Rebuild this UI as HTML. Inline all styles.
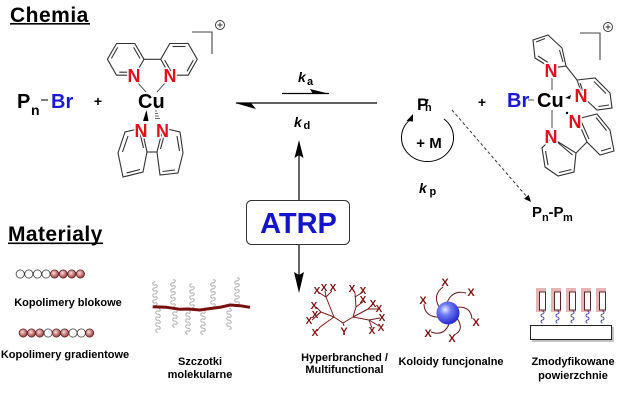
<!DOCTYPE html>
<html><head><meta charset="utf-8"><style>
html,body{margin:0;padding:0;background:#fff;}
svg{display:block;}
text{font-family:"Liberation Sans",Arial,sans-serif;font-weight:bold;}
</style></head><body>
<svg width="626" height="406" viewBox="0 0 626 406" xmlns="http://www.w3.org/2000/svg">
<defs>
<radialGradient id="rb" cx="40%" cy="38%" r="65%"><stop offset="0" stop-color="#f6dede"/><stop offset="0.55" stop-color="#c77a7a"/><stop offset="1" stop-color="#8a3a3a"/></radialGradient>
<radialGradient id="sph" cx="38%" cy="35%" r="70%"><stop offset="0" stop-color="#e8ecff"/><stop offset="0.35" stop-color="#6f7cf5"/><stop offset="1" stop-color="#1d22c8"/></radialGradient>
</defs>
<rect width="626" height="406" fill="#fff"/>

<!-- Headings -->
<text x="10" y="22" font-size="21" letter-spacing="0.5" fill="#000">Chemia</text>
<rect x="10" y="23" width="80" height="1.6" fill="#000"/>
<text x="8" y="241" font-size="21" letter-spacing="0.4" fill="#000">Materialy</text>
<rect x="8" y="242.5" width="95" height="1.6" fill="#000"/>

<!-- Pn-Br -->
<text x="17" y="108" font-size="20" fill="#000">P</text>
<text x="31" y="115" font-size="14" fill="#000">n</text>
<line x1="41" y1="100" x2="48" y2="100" stroke="#000" stroke-width="1"/>
<text x="51" y="108" font-size="20" fill="#1a1ad0">Br</text>
<text x="98" y="106" font-size="14" text-anchor="middle" fill="#000">+</text>

<!-- Left Cu complex -->
<g fill="none" stroke="#333" stroke-width="1.1">
<polygon points="107.4,59.3 116.5,43.5 134.8,43.5 144,59.3 134.8,75.2 116.5,75.2"/>
<line x1="111.4" y1="58.4" x2="117.7" y2="47.4"/><line x1="133.6" y1="47.4" x2="140" y2="58.4"/><line x1="132.1" y1="72.2" x2="119.2" y2="72.2"/>
<line x1="144" y1="59.3" x2="160.7" y2="59.3"/>
<polygon points="160.7,59.3 169.8,43.5 188.2,43.5 197.3,59.3 188.2,75.2 169.8,75.2"/>
<line x1="172.5" y1="46.5" x2="185.5" y2="46.5"/><line x1="193.3" y1="60.2" x2="187" y2="71.3"/><line x1="171" y1="71.3" x2="164.7" y2="60.2"/>
<polygon points="141.7,128 125,132 118,153 123,177 143,172 147,152"/>
<line x1="128" y1="136" x2="122.5" y2="152"/><line x1="126.5" y1="173" x2="140" y2="169.5"/><line x1="143.5" y1="148" x2="139.5" y2="131"/>
<line x1="147" y1="152" x2="157" y2="152"/>
<polygon points="163,128 180,132 183,153 178,173 160,175 157,152"/>
<line x1="177" y1="136" x2="179.5" y2="151"/><line x1="175" y1="170" x2="162.5" y2="171.5"/><line x1="160.5" y1="149" x2="165" y2="132"/>
<line x1="137" y1="82" x2="146" y2="92" stroke-width="0.9"/>
<line x1="166" y1="82" x2="157" y2="92" stroke-width="0.9"/>
<polyline points="192,32 212,32 212,54" stroke="#444"/>
<circle cx="220" cy="25" r="4.5" stroke="#333" stroke-width="0.9"/>
<path d="M217.5,25h5M220,22.5v5" stroke="#333" stroke-width="0.9"/>
</g>
<polygon points="146.5,110 143,121 148.5,121" fill="#000"/>
<g stroke="#444" stroke-width="0.8"><line x1="155" y1="111" x2="157" y2="111"/><line x1="155" y1="113.5" x2="158" y2="113.5"/><line x1="155" y1="116" x2="159" y2="116"/><line x1="155" y1="118.5" x2="160" y2="118.5"/></g>
<g font-size="18" fill="#e0101e" stroke="#fff" stroke-width="3" paint-order="stroke">
<text x="134" y="82" text-anchor="middle">N</text>
<text x="170" y="82" text-anchor="middle">N</text>
<text x="141" y="137" text-anchor="middle">N</text>
<text x="162.5" y="137" text-anchor="middle">N</text>
</g>
<text x="138" y="108" font-size="20" fill="#000">Cu</text>

<!-- Equilibrium arrows -->
<line x1="236" y1="103" x2="377" y2="103" stroke="#000" stroke-width="1.2"/>
<polygon points="235,103 256,109 251,103" fill="#000"/>
<line x1="282" y1="93.5" x2="329" y2="93.5" stroke="#000" stroke-width="1.2"/>
<polygon points="330,94 310,89 313,94" fill="#000"/>
<text x="298" y="82" font-size="14" font-style="italic" fill="#000">k</text>
<text x="307" y="85" font-size="11" fill="#000">a</text>
<text x="294" y="127" font-size="14" font-style="italic" fill="#000">k</text>
<text x="303.5" y="129" font-size="11" fill="#000">d</text>

<!-- ATRP box and arrows -->
<line x1="299" y1="155" x2="299" y2="200" stroke="#000" stroke-width="1.2"/>
<polygon points="299,140 294.5,158 299,155 303.5,158" fill="#000"/>
<line x1="299" y1="245" x2="299" y2="275" stroke="#000" stroke-width="1.2"/>
<polygon points="299,293 294,272 299,275 304,272" fill="#000"/>
<rect x="246.5" y="200.5" width="103" height="44" rx="5" ry="5" fill="#fff" stroke="#333" stroke-width="1"/>
<text x="298.5" y="233" font-size="29" text-anchor="middle" fill="#1414c8">ATRP</text>

<!-- Radical and propagation -->
<text x="417" y="110" font-size="17" fill="#000">P</text>
<text x="425" y="111" font-size="11" fill="#000">n</text>
<circle cx="427.5" cy="100" r="1" fill="#000"/>
<path d="M444,119 A26,24 0 1,1 411,119" fill="none" stroke="#000" stroke-width="1"/>
<polygon points="413,114 406.5,121 413,121.5" fill="#000"/>
<text x="429" y="148" font-size="15" text-anchor="middle" fill="#000">+ M</text>
<text x="419" y="193" font-size="14" font-style="italic" fill="#000">k</text>
<text x="429.5" y="195" font-size="11" fill="#000">p</text>

<!-- dashed arrow -->
<line x1="452" y1="110" x2="527" y2="197" stroke="#333" stroke-width="1" stroke-dasharray="3,2.5"/>
<polygon points="531,202 524.1,198.7 528.7,194.7" fill="#000"/>
<text x="532" y="217" font-size="15" fill="#000">P</text>
<text x="542" y="221" font-size="11" fill="#000">n</text>
<text x="548.5" y="217" font-size="15" fill="#000">-P</text>
<text x="563" y="221" font-size="11" fill="#000">m</text>

<text x="482" y="107" font-size="14" text-anchor="middle" fill="#000">+</text>

<!-- Right Cu complex -->
<g fill="none" stroke="#333" stroke-width="1.1">
<polygon points="551,68 566,66 562,48 548,35 533,40 535,58"/>
<line x1="563" y1="62" x2="559.5" y2="50"/><line x1="545" y1="38.5" x2="536" y2="42"/><line x1="538" y1="56" x2="548" y2="62.5"/>
<line x1="566" y1="66" x2="577" y2="80"/>
<polygon points="577,80 595,78 610,93 612,108 597,110 583,97"/>
<line x1="594" y1="81.5" x2="606" y2="93.5"/><line x1="609" y1="105" x2="598.5" y2="106.5"/><line x1="584" y1="94" x2="580" y2="83"/>
<polygon points="577,119 597,114 610,130 614,151 600,155 587,142"/>
<line x1="596" y1="117.5" x2="606.5" y2="130.5"/><line x1="611" y1="148" x2="601" y2="151"/><line x1="589" y1="139" x2="581" y2="121"/>
<line x1="576" y1="153" x2="587" y2="142"/>
<polygon points="552,138 542,148 545,167 558,176 574,172 576,153"/>
<line x1="545.5" y1="151" x2="548" y2="165"/><line x1="559" y1="172.5" x2="571.5" y2="169.5"/><line x1="572.5" y1="155" x2="556" y2="141"/>
<line x1="552" y1="78" x2="552" y2="90" stroke-width="0.9"/>
<line x1="552" y1="110" x2="552" y2="128" stroke-width="0.9"/>
<line x1="528" y1="100" x2="534" y2="100" stroke="#555" stroke-width="1"/>
<polyline points="580,33 600,33 600,60" stroke="#444"/>
<circle cx="608" cy="27" r="4.5" stroke="#333" stroke-width="0.9"/>
<path d="M605.5,27h5M608,24.5v5" stroke="#333" stroke-width="0.9"/>
</g>
<polygon points="565,98 571,95 570,99" fill="#000"/>
<circle cx="567" cy="113" r="1.2" fill="#000"/>
<g font-size="18" fill="#e0101e" stroke="#fff" stroke-width="3" paint-order="stroke">
<text x="551" y="77" text-anchor="middle">N</text>
<text x="581" y="102" text-anchor="middle">N</text>
<text x="575" y="128" text-anchor="middle">N</text>
<text x="551" y="143" text-anchor="middle">N</text>
</g>
<text x="507" y="107" font-size="20" fill="#1a1ad0">Br</text>
<text x="537" y="107" font-size="20" fill="#000">Cu</text>

<!-- Block copolymer beads -->
<g stroke-width="0.8">
<circle cx="20.2" cy="274" r="4.1" fill="#fff" stroke="#333"/>
<circle cx="28.8" cy="274" r="4.1" fill="#fff" stroke="#333"/>
<circle cx="37.4" cy="274" r="4.1" fill="#fff" stroke="#333"/>
<circle cx="46" cy="274" r="4.1" fill="#fff" stroke="#333"/>
<circle cx="54.6" cy="274" r="4.1" fill="url(#rb)" stroke="#5a2020"/>
<circle cx="63.2" cy="274" r="4.1" fill="url(#rb)" stroke="#5a2020"/>
<circle cx="71.8" cy="274" r="4.1" fill="url(#rb)" stroke="#5a2020"/>
<circle cx="80.4" cy="274" r="4.1" fill="url(#rb)" stroke="#5a2020"/>

<circle cx="23.2" cy="333" r="4.1" fill="url(#rb)" stroke="#5a2020"/>
<circle cx="31.5" cy="333" r="4.1" fill="url(#rb)" stroke="#5a2020"/>
<circle cx="39.8" cy="333" r="4.1" fill="url(#rb)" stroke="#5a2020"/>
<circle cx="48.1" cy="333" r="4.1" fill="#fff" stroke="#333"/>
<circle cx="56.4" cy="333" r="4.1" fill="url(#rb)" stroke="#5a2020"/>
<circle cx="64.7" cy="333" r="4.1" fill="url(#rb)" stroke="#5a2020"/>
<circle cx="73" cy="333" r="4.1" fill="#fff" stroke="#333"/>
<circle cx="81.3" cy="333" r="4.1" fill="#fff" stroke="#333"/>
<circle cx="89.6" cy="333" r="4.1" fill="url(#rb)" stroke="#5a2020"/>
</g>
<g font-size="11" fill="#000" text-anchor="middle">
<text x="68" y="306">Kopolimery blokowe</text>
<text x="65" y="358">Kopolimery gradientowe</text>
<text x="200" y="365">Szczotki</text>
<text x="200" y="378">molekularne</text>
<text x="344.5" y="361">Hyperbranched /</text>
<text x="344.5" y="373">Multifunctional</text>
<text x="451" y="365">Koloidy funcjonalne</text>
<text x="573" y="365">Zmodyfikowane</text>
<text x="573" y="379">powierzchnie</text>
</g>

<!-- Molecular brushes -->
<g fill="none" stroke="#9c9c9c" stroke-width="0.8">
<path d="M155,306 c3,-1 3,-4 0,-3 c-3,1 -3,-4 0,-3 c3,-1 3,-4 0,-3 c-3,1 -3,-4 0,-3 c3,-1 3,-4 0,-3 c-3,1 -3,-4 0,-3 c3,-1 3,-4 0,-3 c-3,1 -3,-4 0,-3"/>
<path d="M173,307 c3,-1 3,-4 0,-3 c-3,1 -3,-4 0,-3 c3,-1 3,-4 0,-3 c-3,1 -3,-4 0,-3 c3,-1 3,-4 0,-3 c-3,1 -3,-4 0,-3 c3,-1 3,-4 0,-3 c-3,1 -3,-4 0,-3 c3,-1 3,-4 0,-3"/>
<path d="M192,308 c3,-1 3,-4 0,-3 c-3,1 -3,-4 0,-3 c3,-1 3,-4 0,-3 c-3,1 -3,-4 0,-3 c3,-1 3,-4 0,-3 c-3,1 -3,-4 0,-3 c3,-1 3,-4 0,-3 c-3,1 -3,-4 0,-3"/>
<path d="M213,307 c3,-1 3,-4 0,-3 c-3,1 -3,-4 0,-3 c3,-1 3,-4 0,-3 c-3,1 -3,-4 0,-3 c3,-1 3,-4 0,-3 c-3,1 -3,-4 0,-3 c3,-1 3,-4 0,-3 c-3,1 -3,-4 0,-3 c3,-1 3,-4 0,-3"/>
<path d="M237,305 c3,-1 3,-4 0,-3 c-3,1 -3,-4 0,-3 c3,-1 3,-4 0,-3 c-3,1 -3,-4 0,-3 c3,-1 3,-4 0,-3 c-3,1 -3,-4 0,-3 c3,-1 3,-4 0,-3 c-3,1 -3,-4 0,-3 c3,-1 3,-4 0,-3"/>
<path d="M158,308 c3,1 3,4 0,3 c-3,-1 -3,4 0,3 c3,1 3,4 0,3 c-3,-1 -3,4 0,3 c3,1 3,4 0,3 c-3,-1 -3,4 0,3 c3,1 3,4 0,3 c-3,-1 -3,4 0,3"/>
<path d="M175,309 c3,1 3,4 0,3 c-3,-1 -3,4 0,3 c3,1 3,4 0,3 c-3,-1 -3,4 0,3 c3,1 3,4 0,3 c-3,-1 -3,4 0,3"/>
<path d="M188,310 c3,1 3,4 0,3 c-3,-1 -3,4 0,3 c3,1 3,4 0,3 c-3,-1 -3,4 0,3 c3,1 3,4 0,3 c-3,-1 -3,4 0,3 c3,1 3,4 0,3 c-3,-1 -3,4 0,3"/>
<path d="M203,310 c3,1 3,4 0,3 c-3,-1 -3,4 0,3 c3,1 3,4 0,3 c-3,-1 -3,4 0,3 c3,1 3,4 0,3 c-3,-1 -3,4 0,3 c3,1 3,4 0,3 c-3,-1 -3,4 0,3"/>
<path d="M229,308 c3,1 3,4 0,3 c-3,-1 -3,4 0,3 c3,1 3,4 0,3 c-3,-1 -3,4 0,3 c3,1 3,4 0,3 c-3,-1 -3,4 0,3 c3,1 3,4 0,3"/>
</g>
<polyline points="152.7,306.7 166.7,307.3 180,309.3 188.3,309 200,310 206.7,309 220,307.3 230,305 240,305.7 250,307.3" fill="none" stroke="#7a0f0f" stroke-width="3" stroke-linejoin="round"/>

<!-- Hyperbranched -->
<g fill="none" stroke="#7a1a1a" stroke-width="1">
<polyline points="334,317 343,323 353,317"/>
<line x1="343" y1="323" x2="344" y2="326"/>
<line x1="334" y1="317" x2="326" y2="297"/>
<line x1="326" y1="297" x2="318" y2="292"/><line x1="326" y1="297" x2="325" y2="291"/><line x1="326" y1="297" x2="332" y2="291"/>
<line x1="334" y1="317" x2="321" y2="312"/>
<line x1="321" y1="312" x2="316" y2="307"/><line x1="321" y1="312" x2="317" y2="315"/><line x1="321" y1="312" x2="312" y2="320"/>
<line x1="334" y1="317" x2="320" y2="327"/><line x1="320" y1="327" x2="317" y2="331"/>
<line x1="353" y1="317" x2="356" y2="307"/>
<line x1="356" y1="307" x2="355" y2="293"/><line x1="355" y1="293" x2="353" y2="290"/><line x1="355" y1="297" x2="363" y2="292"/>
<line x1="356" y1="307" x2="364" y2="301"/>
<line x1="353" y1="317" x2="368" y2="309"/><line x1="368" y1="309" x2="373" y2="304"/><line x1="368" y1="309" x2="378" y2="309"/>
<line x1="353" y1="317" x2="369" y2="320"/><line x1="369" y1="320" x2="380" y2="318"/><line x1="369" y1="320" x2="379" y2="326"/><line x1="369" y1="320" x2="372" y2="328"/>
</g>
<g font-size="10" fill="#7a1414" text-anchor="middle">
<text x="317" y="294">X</text><text x="324" y="291">X</text><text x="333" y="291">X</text>
<text x="352" y="292">X</text><text x="363" y="294">X</text><text x="363" y="303">X</text>
<text x="373" y="307">X</text><text x="379" y="312">X</text><text x="382" y="321">X</text>
<text x="381" y="331">X</text><text x="372" y="334">X</text>
<text x="314" y="309">X</text><text x="315" y="318">X</text><text x="309" y="324">X</text><text x="315" y="336">X</text>
<text x="344" y="335" font-size="11">Y</text>
</g>

<!-- Koloidy -->
<g fill="none" stroke="#6b1a1a" stroke-width="1">
<path d="M438.9,306.8 Q432.4,294.8 443,287"/>
<path d="M447.3,302 Q452.7,289.5 466,293"/>
<path d="M457.3,307.2 Q470.9,306 472,319"/>
<path d="M457.4,318.7 Q464.7,330.3 454,335"/>
<path d="M449,324 Q443.8,336.6 431,332"/>
<path d="M437.8,317.2 Q424.2,316.1 424,304"/>
</g>
<circle cx="448" cy="313" r="11.5" fill="url(#sph)"/>
<g font-size="11" fill="#7a1414" text-anchor="middle">
<text x="445" y="286">X</text><text x="471" y="296">X</text><text x="423" y="304">X</text>
<text x="476" y="326">X</text><text x="428" y="337">X</text><text x="452" y="342">X</text>
</g>

<!-- Modified surfaces -->
<g>
<rect x="536" y="288" width="10" height="24" fill="#e6b4b4"/>
<rect x="551" y="288" width="10" height="24" fill="#e6b4b4"/>
<rect x="566" y="288" width="10" height="24" fill="#e6b4b4"/>
<rect x="581" y="288" width="10" height="24" fill="#e6b4b4"/>
<rect x="596" y="288" width="10" height="24" fill="#e6b4b4"/>
<g fill="#fff" stroke="#4a1414" stroke-width="0.9">
<rect x="539.5" y="292" width="6" height="18"/>
<rect x="554.5" y="292" width="6" height="18"/>
<rect x="569.5" y="292" width="6" height="18"/>
<rect x="584.5" y="292" width="6" height="18"/>
<rect x="599.5" y="292" width="6" height="18"/>
</g>
<g fill="none" stroke="#3030a8" stroke-width="0.8">
<path d="M542.5,311 c2,0 2,3 0,3 c-2,0 -2,3 0,3 c2,0 2,3 0,3 c-2,0 -2,3 0,3"/>
<path d="M557.5,311 c2,0 2,3 0,3 c-2,0 -2,3 0,3 c2,0 2,3 0,3 c-2,0 -2,3 0,3"/>
<path d="M572.5,311 c2,0 2,3 0,3 c-2,0 -2,3 0,3 c2,0 2,3 0,3 c-2,0 -2,3 0,3"/>
<path d="M587.5,311 c2,0 2,3 0,3 c-2,0 -2,3 0,3 c2,0 2,3 0,3 c-2,0 -2,3 0,3"/>
<path d="M602.5,311 c2,0 2,3 0,3 c-2,0 -2,3 0,3 c2,0 2,3 0,3 c-2,0 -2,3 0,3"/>
</g>
<rect x="532" y="327" width="82" height="15" fill="#c4c4c4"/>
<rect x="530.5" y="325.5" width="81" height="14" fill="#fff" stroke="#222" stroke-width="1"/>
</g>
</svg>
</body></html>
